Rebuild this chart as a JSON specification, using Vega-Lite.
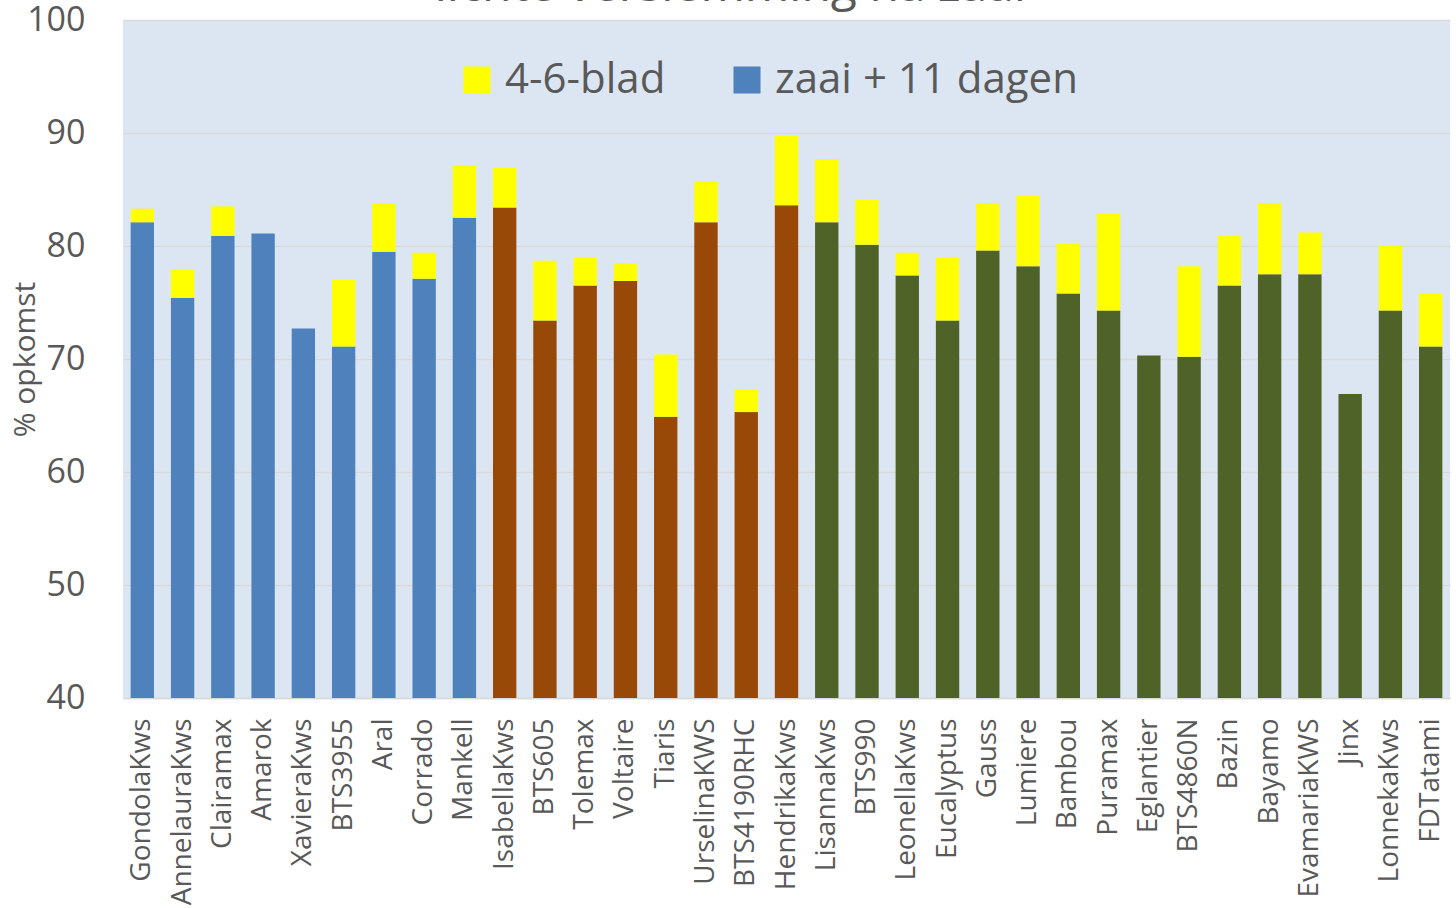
{
  "$schema": "https://vega.github.io/schema/vega-lite/v6.json",
  "autosize": "none",
  "width": 1327,
  "height": 678,
  "padding": {"left": 123, "top": 20, "right": 6, "bottom": 210},
  "background": "white",
  "title": {
    "text": "lichte verslemming na zaai",
    "fontSize": 48,
    "fontWeight": "normal",
    "color": "#595959",
    "font": "Open Sans",
    "anchor": "middle",
    "frame": "bounds",
    "baseline": "alphabetic",
    "offset": 0,
    "dy": 46
  },
  "config": {
    "view": {"fill": "#DCE6F2", "stroke": null},
    "font": "Open Sans"
  },
  "data": {
    "values": [
      {"ras": "GondolaKws", "groep": "zaai + 11 dagen", "zaai": 82.1, "blad": 83.3},
      {"ras": "AnnelauraKws", "groep": "zaai + 11 dagen", "zaai": 75.4, "blad": 77.9},
      {"ras": "Clairamax", "groep": "zaai + 11 dagen", "zaai": 80.9, "blad": 83.5},
      {"ras": "Amarok", "groep": "zaai + 11 dagen", "zaai": 81.1, "blad": 81.1},
      {"ras": "XavieraKws", "groep": "zaai + 11 dagen", "zaai": 72.7, "blad": 72.7},
      {"ras": "BTS3955", "groep": "zaai + 11 dagen", "zaai": 71.1, "blad": 77.0},
      {"ras": "Aral", "groep": "zaai + 11 dagen", "zaai": 79.5, "blad": 83.8},
      {"ras": "Corrado", "groep": "zaai + 11 dagen", "zaai": 77.1, "blad": 79.4},
      {"ras": "Mankell", "groep": "zaai + 11 dagen", "zaai": 82.5, "blad": 87.1},
      {"ras": "IsabellaKws", "groep": "bruin", "zaai": 83.4, "blad": 86.9},
      {"ras": "BTS605", "groep": "bruin", "zaai": 73.4, "blad": 78.7},
      {"ras": "Tolemax", "groep": "bruin", "zaai": 76.5, "blad": 79.0},
      {"ras": "Voltaire", "groep": "bruin", "zaai": 76.9, "blad": 78.5},
      {"ras": "Tiaris", "groep": "bruin", "zaai": 64.9, "blad": 70.4},
      {"ras": "UrselinaKWS", "groep": "bruin", "zaai": 82.1, "blad": 85.7},
      {"ras": "BTS4190RHC", "groep": "bruin", "zaai": 65.3, "blad": 67.3},
      {"ras": "HendrikaKws", "groep": "bruin", "zaai": 83.6, "blad": 89.8},
      {"ras": "LisannaKws", "groep": "groen", "zaai": 82.1, "blad": 87.7},
      {"ras": "BTS990", "groep": "groen", "zaai": 80.1, "blad": 84.1},
      {"ras": "LeonellaKws", "groep": "groen", "zaai": 77.4, "blad": 79.4},
      {"ras": "Eucalyptus", "groep": "groen", "zaai": 73.4, "blad": 79.0},
      {"ras": "Gauss", "groep": "groen", "zaai": 79.6, "blad": 83.8},
      {"ras": "Lumiere", "groep": "groen", "zaai": 78.2, "blad": 84.5},
      {"ras": "Bambou", "groep": "groen", "zaai": 75.8, "blad": 80.2},
      {"ras": "Puramax", "groep": "groen", "zaai": 74.3, "blad": 82.9},
      {"ras": "Eglantier", "groep": "groen", "zaai": 70.3, "blad": 70.3},
      {"ras": "BTS4860N", "groep": "groen", "zaai": 70.2, "blad": 78.2},
      {"ras": "Bazin", "groep": "groen", "zaai": 76.5, "blad": 80.9},
      {"ras": "Bayamo", "groep": "groen", "zaai": 77.5, "blad": 83.8},
      {"ras": "EvamariaKWS", "groep": "groen", "zaai": 77.5, "blad": 81.2},
      {"ras": "Jinx", "groep": "groen", "zaai": 66.9, "blad": 66.9},
      {"ras": "LonnekaKws", "groep": "groen", "zaai": 74.3, "blad": 80.0},
      {"ras": "FDTatami", "groep": "groen", "zaai": 71.1, "blad": 75.8}
    ]
  },
  "encoding": {
    "x": {
      "field": "ras",
      "type": "nominal",
      "sort": null,
      "scale": {"paddingInner": 0.42, "paddingOuter": 0.19},
      "axis": {
        "title": null,
        "labelAngle": -90,
        "labelFontSize": 28,
        "labelColor": "#595959",
        "labelLimit": 400,
        "ticks": false,
        "labelPadding": 20,
        "domainColor": "#D9D9D9",
        "domainWidth": 1.5
      }
    }
  },
  "layer": [
    {
      "mark": {"type": "bar"},
      "encoding": {
        "y": {
          "field": "zaai",
          "type": "quantitative",
          "scale": {"domain": [40, 100], "nice": false, "zero": false},
          "axis": {
            "values": [40, 50, 60, 70, 80, 90, 100],
            "grid": true,
            "gridColor": "#D9D9D9",
            "gridWidth": 1.5,
            "domain": false,
            "ticks": false,
            "labelFontSize": 34,
            "labelColor": "#595959",
            "labelPadding": 38,
            "title": "% opkomst",
            "titleFontSize": 30,
            "titleFontWeight": "normal",
            "titleColor": "#595959",
            "titlePadding": -14
          }
        },
        "y2": {"datum": 40},
        "color": {
          "field": "groep",
          "type": "nominal",
          "scale": {
            "domain": ["4-6-blad", "zaai + 11 dagen", "bruin", "groen"],
            "range": ["#FFFF00", "#4F81BD", "#984807", "#4F6228"]
          },
          "legend": {
            "values": ["4-6-blad", "zaai + 11 dagen"],
            "title": null,
            "orient": "none",
            "legendX": 333,
            "legendY": 39,
            "direction": "horizontal",
            "symbolType": "square",
            "symbolSize": 729,
            "symbolStrokeWidth": 0,
            "labelFontSize": 42,
            "labelColor": "#595959",
            "labelOffset": 7,
            "columnPadding": 60,
            "padding": 0,
            "labelLimit": 600
          }
        }
      }
    },
    {
      "mark": {"type": "bar"},
      "encoding": {
        "y": {"field": "blad", "type": "quantitative"},
        "y2": {"field": "zaai"},
        "color": {"datum": "4-6-blad", "type": "nominal"}
      }
    }
  ]
}
